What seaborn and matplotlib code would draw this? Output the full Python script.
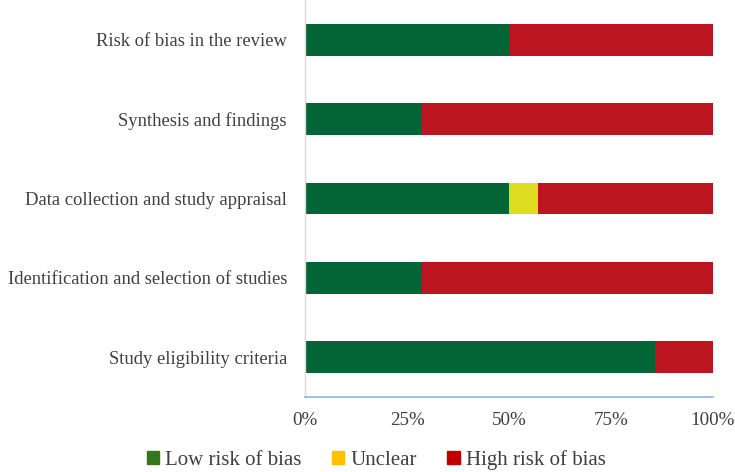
import matplotlib
matplotlib.use("Agg")
import matplotlib.pyplot as plt
from matplotlib.patches import Patch
import seaborn as sns
import pandas as pd

# domains, top to bottom as in the chart
domains = [
    "Risk of bias in the review",
    "Synthesis and findings",
    "Data collection and study appraisal",
    "Identification and selection of studies",
    "Study eligibility criteria",
]
# percent of reviews per judgement
low = [50.0, 28.6, 50.0, 28.6, 85.7]
unclear = [0.0, 0.0, 7.1, 0.0, 0.0]
high = [50.0, 71.4, 42.9, 71.4, 14.3]

df = pd.DataFrame({"domain": domains, "low": low, "unclear": unclear, "high": high})
df["low_unclear"] = df["low"] + df["unclear"]
df["total"] = df["low_unclear"] + df["high"]

sns.set_style("white")
plt.rcParams["font.family"] = ["Liberation Serif", "DejaVu Serif"]

fig = plt.figure(figsize=(7.35, 4.72), dpi=100)
ax = fig.add_axes([0.415, 0.159, 0.555, 0.841])

# stacked by layering cumulative sums
kw = dict(y="domain", width=0.4, ax=ax, saturation=1, linewidth=0)
sns.barplot(data=df, x="total", color="#BD1520", **kw)
sns.barplot(data=df, x="low_unclear", color="#DEDC1F", **kw)
sns.barplot(data=df, x="low", color="#036535", **kw)

ax.set_xlim(0, 100)
ax.set_ylim(4.5, -0.5)
ax.set_xticks([0, 25, 50, 75, 100])
ax.set_xticklabels(["0%", "25%", "50%", "75%", "100%"])
ax.set_xlabel("")
ax.set_ylabel("")
ax.tick_params(axis="both", length=0, colors="#404040")
ax.tick_params(axis="x", pad=11, labelsize=13.7)
ax.tick_params(axis="y", pad=13, labelsize=13.4)

for s in ["top", "right"]:
    ax.spines[s].set_visible(False)
ax.spines["left"].set_color("#D9D9D9")
ax.spines["left"].set_linewidth(1.0)
ax.spines["bottom"].set_color("#8DB4E2")
ax.spines["bottom"].set_linewidth(1.2)

handles = [
    Patch(color="#38761D", label="Low risk of bias"),
    Patch(color="#FFC000", label="Unclear"),
    Patch(color="#C00000", label="High risk of bias"),
]
fig.legend(handles=handles, loc="lower center", bbox_to_anchor=(0.512, -0.035), ncol=3,
           frameon=False, prop={"family": "Liberation Serif", "size": 15},
           handlelength=0.6, handleheight=0.6,
           handletextpad=0.3, columnspacing=1.45, labelcolor="#404040")

fig.savefig("out.png", dpi=100)
